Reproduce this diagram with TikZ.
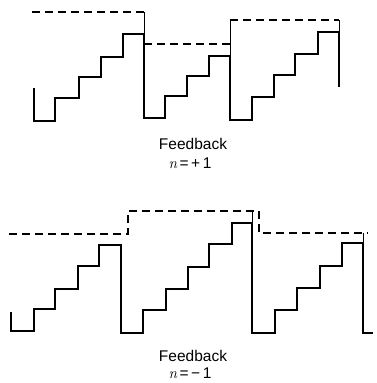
\documentclass[tikz,border=0pt]{standalone}
\usepackage{amsmath}
\usepackage{fontspec}
\setsansfont{Liberation Sans}
\usepackage{tikz}
\usetikzlibrary{calc,positioning}

\newcommand{\nvar}{{\rmfamily\itshape n}}

\tikzset{
  stair/.style={line width=1.6pt, line join=miter},
  level/.style={line width=1.1pt, dash pattern=on 8pt off 5pt},
  riser/.style={line width=0.9pt},
  caption/.style={inner sep=0pt, font=\sffamily\fontsize{15.5}{18}\selectfont},
}

\begin{document}
\begin{tikzpicture}[x=1pt, y=-1pt]
    \useasboundingbox (0,0) rectangle (376,383);
    % n = +1
    \draw[level] (32,12) -- (144,12);
    \draw[level] (144,44) -- (230,44);
    \draw[level] (230,20) -- (339,20);
    \draw[riser] (144,12) -- (144,34);
    \draw[riser] (230,20) -- (230,56);
    \draw[riser] (339,20) -- (339,32);
    \draw[stair] (34,88) |- (55,121) |- (79,98) |- (101,77) |- (123,57) |- (144,34)
        |- (165,118) |- (187,96) |- (209,76) |- (230,56)
        |- (252,120) |- (274,97) |- (295,75) |- (318,54) |- (339,32) -- (339,87);
    \node[caption] (fbA) at (193,144) {Feedback};
    \node[caption] (nA) at (190,163) {\nvar\,=\,+\,1};
    % n = -1
    \draw[level] (9,234) -- (128,234) -- (128,211) -- (255,211);
    \draw[level] (259,211) -- (259,233) -- (368,233);
    \draw[riser] (252,211) -- (252,223);
    \draw[riser] (363,233) -- (363,243);
    \draw[stair] (11,312) |- (34,331) |- (55,309) |- (78,289) |- (99,266) |- (121,245)
        |- (143,333) |- (166,310) |- (188,289) |- (209,267) |- (232,244) |- (252,223)
        |- (275,333) |- (297,310) |- (320,288) |- (342,266) |- (363,243) |- (373,333);
    \node[caption] (fbB) at (193,356) {Feedback};
    \node[caption] (nB) at (190,373) {\nvar\,=\,−\,1};
\end{tikzpicture}
\end{document}
